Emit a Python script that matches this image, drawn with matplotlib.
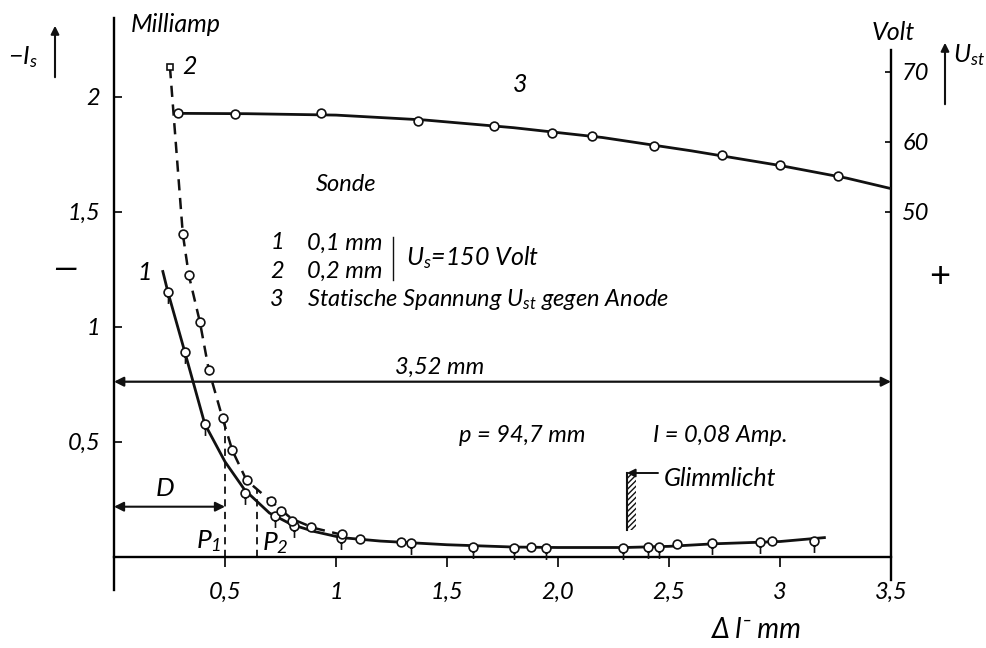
import matplotlib
matplotlib.use("Agg")
import matplotlib.pyplot as plt
from matplotlib.path import Path
from matplotlib.patches import Rectangle, FancyArrowPatch

plt.rcParams['font.family'] = ['Lato', 'DejaVu Sans']
plt.rcParams['font.style'] = 'italic'
plt.rcParams['mathtext.fontset'] = 'custom'
plt.rcParams['mathtext.rm'] = 'Lato:italic'
plt.rcParams['mathtext.it'] = 'Lato:italic'
plt.rcParams['hatch.linewidth'] = 1.0

# ---------------- data ----------------
# curve 1 (probe 0.1 mm) measured points, mA
x1_pts = [0.243, 0.319, 0.409, 0.589, 0.724, 0.811, 1.024, 1.338, 1.616, 1.803,
          1.948, 2.295, 2.407, 2.456, 2.695, 2.908, 3.152]
y1_pts = [1.151, 0.890, 0.577, 0.277, 0.177, 0.134, 0.080, 0.061, 0.043, 0.037,
          0.039, 0.039, 0.041, 0.043, 0.058, 0.063, 0.070]
# curve 1 drawn line
x1_line = [0.22, 0.243, 0.319, 0.409, 0.5, 0.589, 0.7, 0.8, 0.9, 1.024, 1.2, 1.5,
           1.8, 2.0, 2.3, 2.5, 2.7, 3.0, 3.2]
y1_line = [1.24, 1.15, 0.89, 0.577, 0.413, 0.29, 0.19, 0.14, 0.11, 0.083, 0.068,
           0.052, 0.042, 0.040, 0.040, 0.045, 0.056, 0.066, 0.083]

# curve 2 (probe 0.2 mm) measured points, mA
x2_pts = [0.310, 0.337, 0.387, 0.427, 0.489, 0.533, 0.597, 0.705, 0.754, 0.804,
          0.889, 1.028, 1.106, 1.292, 1.878, 2.535, 2.964]
y2_pts = [1.403, 1.224, 1.020, 0.812, 0.602, 0.462, 0.332, 0.243, 0.200, 0.157,
          0.128, 0.097, 0.076, 0.065, 0.043, 0.055, 0.070]
x2_top, y2_top = [0.252], [2.129]
# curve 2 drawn dashed line
x2_line = [0.252, 0.310, 0.337, 0.387, 0.427, 0.489, 0.533, 0.597, 0.705, 0.8,
           0.9, 1.05]
y2_line = [2.129, 1.403, 1.224, 1.020, 0.812, 0.602, 0.462, 0.332, 0.243, 0.165,
           0.125, 0.09]

# curve 3 static voltage, Volt
x3_pts = [0.289, 0.547, 0.934, 1.371, 1.710, 1.973, 2.152, 2.433, 2.740, 2.999, 3.260]
v3_pts = [64.06, 63.96, 64.14, 63.0, 62.24, 61.29, 60.81, 59.39, 58.06, 56.67, 55.1]
x3_line = [0.289, 0.6, 1.0, 1.4, 1.8, 2.2, 2.6, 3.0, 3.3, 3.5]
v3_line = [64.05, 64.0, 63.8, 63.1, 62.0, 60.6, 58.7, 56.6, 54.8, 53.3]

# annotations
P1_x, P1_top = 0.5, 0.60
P2_x, P2_top = 0.646, 0.29
D_x = 0.5
glimm_x = 2.31

x_ticks = [0.5, 1, 1.5, 2.0, 2.5, 3, 3.5]
x_ticklabels = ['0,5', '1', '1,5', '2,0', '2,5', '3', '3,5']
y_ticks = [0.5, 1, 1.5, 2]
y_ticklabels = ['0,5', '1', '1,5', '2']
v_ticks = [50, 60, 70]
v_ticklabels = ['50', '60', '70']

# mapping between mA and Volt axes
mA_at_50V = 1.5
mA_per_V = 7.0 / 230.0

# ---------------- figure ----------------
W, H = 987, 648
fig = plt.figure(figsize=(W / 100, H / 100), dpi=100)
fig.patch.set_facecolor('white')

x0px, x1px = 114, 891
y0px = 556.7
pxu_x = (x1px - x0px) / 3.5
pxu_y = 230.0
top_px, bot_px = 18, 590
ax = fig.add_axes([x0px / W, (H - bot_px) / H, (x1px - x0px) / W, (bot_px - top_px) / H])
ylo = (y0px - bot_px) / pxu_y
yhi = (y0px - top_px) / pxu_y
ax.set_xlim(0, 3.5)
ax.set_ylim(ylo, yhi)


def V_of(mA):
    return 50 + (mA - mA_at_50V) / mA_per_V


ax2 = ax.twinx()
ax2.set_ylim(V_of(ylo), V_of(yhi))

k = '#111111'
for s in ['top', 'right']:
    ax.spines[s].set_visible(False)
ax.spines['bottom'].set_position(('data', 0))
ax.spines['bottom'].set_linewidth(1.7)
ax.spines['left'].set_linewidth(1.7)
for s in ['top', 'left', 'bottom']:
    ax2.spines[s].set_visible(False)
ax2.spines['right'].set_linewidth(1.7)
ax2.spines['right'].set_bounds(V_of((y0px - 580) / pxu_y), V_of((y0px - 50) / pxu_y))

ax.set_xticks(x_ticks)
ax.set_xticklabels(x_ticklabels)
ax.set_yticks(y_ticks)
ax.set_yticklabels(y_ticklabels)
ax2.set_yticks(v_ticks)
ax2.set_yticklabels(v_ticklabels)
ax.tick_params(axis='x', direction='out', length=7, width=1.2, pad=11, labelsize=17)
ax.tick_params(axis='y', direction='in', length=6, width=1.2, pad=10, labelsize=17)
ax2.tick_params(axis='y', direction='in', length=4, width=1.2, pad=8, labelsize=17)

# stem marker: circle with a short line below
circ = Path.unit_circle()
stem = Path([(0, -1), (0, -2.6)], [Path.MOVETO, Path.LINETO])
stem_marker = Path.make_compound_path(circ, stem)

# curves
ax.plot(x1_line, y1_line, '-', color=k, lw=2.0, zorder=3)
ax.plot(x2_line, y2_line, color=k, lw=1.8, dashes=(4.5, 3), zorder=3)
ax.plot(x1_pts, y1_pts, linestyle='none', marker=stem_marker, ms=16.5,
        mfc='white', mec=k, mew=1.2, zorder=5)
ax.plot(x2_pts, y2_pts, linestyle='none', marker='o', ms=6.3,
        mfc='white', mec=k, mew=1.2, zorder=5)
ax.plot(x2_top, y2_top, linestyle='none', marker='s', ms=4.5,
        mfc='white', mec=k, mew=1.2, zorder=5)
ax2.plot(x3_line, v3_line, '-', color=k, lw=2.0, zorder=3)
ax2.plot(x3_pts, v3_pts, linestyle='none', marker='o', ms=6.3,
         mfc='white', mec=k, mew=1.2, zorder=5)

# P1, P2 dashed verticals
ax.plot([P1_x, P1_x], [0, P1_top], color=k, lw=1.3, dashes=(4, 3), zorder=2)
ax.plot([P2_x, P2_x], [0, P2_top], color=k, lw=1.3, dashes=(4, 3), zorder=2)


def dx(px):
    return (px - x0px) / pxu_x


def dy(py):
    return (y0px - py) / pxu_y


# arrows
arr_y = dy(381.7)
ax.annotate('', xy=(0, arr_y), xytext=(3.5, arr_y),
            arrowprops=dict(arrowstyle='<|-|>', lw=1.6, color=k,
                            mutation_scale=14, shrinkA=0, shrinkB=0))
ax.text(dx(440), dy(367), '3,52 mm', fontsize=17, ha='center', va='center')
d_y = dy(506.7)
ax.annotate('', xy=(0, d_y), xytext=(D_x, d_y),
            arrowprops=dict(arrowstyle='<|-|>', lw=1.5, color=k,
                            mutation_scale=14, shrinkA=0, shrinkB=0))
ax.text(dx(165), dy(488), 'D', fontsize=19, ha='center', va='center')
ax.text(dx(221), dy(541), '$P_1$', fontsize=19, ha='right', va='center')
ax.text(dx(262), dy(543), '$P_2$', fontsize=19, ha='left', va='center')

# Glimmlicht
g_bot = dy(530)
g_top = dy(473)
ax.add_patch(Rectangle((glimm_x, g_bot), 0.04, g_top - g_bot, facecolor='white',
                       edgecolor=k, hatch='//////', lw=0, zorder=2))
ax.plot([glimm_x, glimm_x], [g_bot, g_top], color=k, lw=1.5, zorder=3)
ax.annotate('', xy=(glimm_x, g_top), xytext=(dx(658), g_top),
            arrowprops=dict(arrowstyle='-|>', lw=1.4, color=k,
                            mutation_scale=12, shrinkA=0, shrinkB=0))
ax.text(dx(664), dy(478), 'Glimmlicht', fontsize=18, ha='left', va='center')

# labels on curves
ax.text(dx(145), dy(272), '1', fontsize=18, ha='center', va='center')
ax.text(dx(190), dy(66), '2', fontsize=18, ha='center', va='center')
ax.text(dx(520), dy(85), '3', fontsize=18, ha='center', va='center')
ax.text(dx(346), dy(185), 'Sonde', fontsize=17, ha='center', va='center')

# legend block
ax.text(dx(277), dy(243), '1', fontsize=17, ha='center', va='center')
ax.text(dx(307), dy(243), '0,1 mm', fontsize=17, ha='left', va='center')
ax.text(dx(277), dy(271), '2', fontsize=17, ha='center', va='center')
ax.text(dx(307), dy(271), '0,2 mm', fontsize=17, ha='left', va='center')
ax.plot([dx(393), dx(393)], [dy(237), dy(280)], color=k, lw=1.0)
ax.text(dx(406), dy(258), '$U_s$=150 Volt', fontsize=18, ha='left', va='center')
ax.text(dx(277), dy(300), '3', fontsize=17, ha='center', va='center')
ax.text(dx(307), dy(300), 'Statische Spannung $U_{st}$ gegen Anode', fontsize=17,
        ha='left', va='center')

ax.text(dx(522), dy(435), 'p = 94,7 mm', fontsize=17, ha='center', va='center')
ax.text(dx(720), dy(435), 'I = 0,08 Amp.', fontsize=17, ha='center', va='center')

# outside texts
fig.text(176 / W, 1 - 25 / H, 'Milliamp', fontsize=18, ha='center', va='center')
fig.text(23 / W, 1 - 57 / H, '$-I_s$', fontsize=18, ha='center', va='center')
fig.add_artist(FancyArrowPatch((55 / W, 1 - 80 / H), (55 / W, 1 - 23 / H),
               transform=fig.transFigure, arrowstyle='-|>', mutation_scale=12,
               lw=1.5, color=k))
fig.text(893 / W, 1 - 33 / H, 'Volt', fontsize=18, ha='center', va='center')
fig.add_artist(FancyArrowPatch((945 / W, 1 - 107 / H), (945 / W, 1 - 40 / H),
               transform=fig.transFigure, arrowstyle='-|>', mutation_scale=12,
               lw=1.5, color=k))
fig.text(969 / W, 1 - 55 / H, '$U_{st}$', fontsize=18, ha='center', va='center')
fig.text(65 / W, 1 - 270 / H, '—', fontsize=24, ha='center', va='center')
fig.text(940 / W, 1 - 277 / H, '+', fontsize=26, ha='center', va='center', style='normal')
fig.text(757 / W, 1 - 630 / H, 'Δ l⁻ mm', fontsize=20, ha='center', va='center')

fig.savefig('out.png', dpi=100, facecolor='white')
